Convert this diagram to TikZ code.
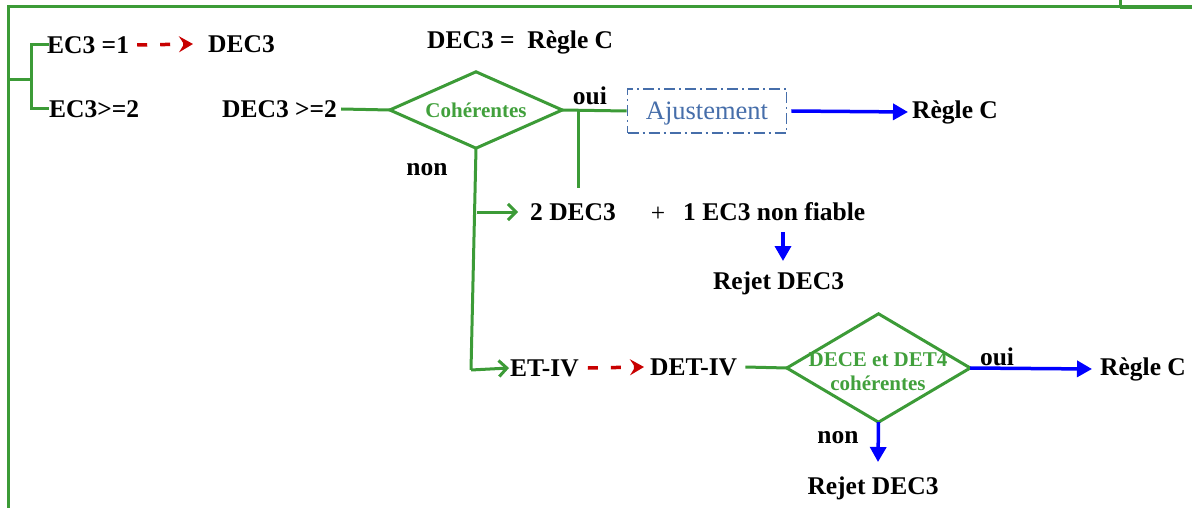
\documentclass[tikz,border=0pt]{standalone}
\usepackage{fontspec}
\setmainfont{Liberation Serif}
\usetikzlibrary{arrows.meta}
\definecolor{gline}{RGB}{60,155,55}
\definecolor{gtext}{RGB}{65,160,60}
\definecolor{rdash}{RGB}{200,0,0}
\definecolor{bluearr}{RGB}{0,0,255}
\definecolor{adjc}{RGB}{70,110,170}
\begin{document}
\begin{tikzpicture}[x=1pt,y=-1pt,
 lbl/.style={font=\fontsize{25.5}{27}\selectfont\bfseries, inner sep=0pt, anchor=west},
 clbl/.style={font=\fontsize{25.5}{27}\selectfont\bfseries, inner sep=0pt},
 glbl/.style={font=\fontsize{21}{24}\selectfont\bfseries, text=gtext, inner sep=0pt, align=center},
 gl/.style={draw=gline, line width=3pt},
 garr/.style={gl, -{Straight Barb[length=8pt,width=16pt,line width=3pt]}},
 rarr/.style={draw=rdash, line width=3.5pt, dash pattern=on 10pt off 13pt, -{Stealth[length=14pt,width=16pt,inset=5pt]}},
 barr/.style={draw=bluearr, line width=3.5pt, -{Triangle[length=15pt,width=16pt]}},
 dbox/.style={draw=none, inner sep=0pt},
]
\useasboundingbox (0,0) rectangle (1192,508);
% frame
\coordinate (tl) at (8,7);
\coordinate (tb) at (8,508);
\coordinate (tr) at (1120,7);
\coordinate (tr0) at (1120,0);
\coordinate (trr) at (1192,7);
\draw[gl] (tb) -- (tl) -- (tr);
\draw[gl] (tr0) -- (tr);
\draw[gl, line width=4.5pt] (tr) -- (trr);
% left branch
\coordinate (b0) at (8,80);
\coordinate (b1) at (31,80);
\node[lbl] (n1) at (47,45) {EC3 =1};
\node[lbl] (n2) at (49,109) {EC3>=2};
\draw[gl] (b0) -- (b1);
\draw[gl] ([xshift=2pt]n1.west) -| (b1) |- ([xshift=0pt]n2.west);
\node[lbl] (d1) at (208,44) {DEC3};
\draw[rarr] ([xshift=8pt]n1.east) -- ([xshift=-15pt]d1.west);
\node[lbl] (dr) at (427,42) {DEC3 =\ \ Règle C};
\node[lbl] (n4) at (222,109) {DEC3 >=2};
% diamond 1
\node[dbox, minimum width=172pt, minimum height=76pt] (c1) at (476,110) {};
\draw[gl] (c1.west) -- (c1.north) -- (c1.east) -- (c1.south) -- cycle;
\node[glbl] (c1t) at (c1.center) {Cohérentes};
\draw[gl] ([xshift=4pt]n4.east) -- (c1.west);
\node[clbl] (oui1) at (590,96) {oui};
\node[draw=adjc, line width=1.8pt, dash pattern=on 11pt off 4pt on 2pt off 4pt,
      minimum width=159pt, minimum height=44pt, inner sep=0pt, text=adjc,
      text height=18pt, text depth=0pt,
      font=\fontsize{26.5}{28}\selectfont] (adj) at (707,111) {Ajustement};
\draw[gl] (c1.east) -- (adj.west);
\coordinate (v1) at (578,110);
\coordinate (v1b) at (578,188);
\draw[gl] (v1) -- (v1b);
\node[lbl] (rc1) at (912,112) {Règle C};
\draw[barr] ([xshift=4pt]adj.east) -- ([xshift=-4pt]rc1.west);
% non branch
\node[clbl] (non1) at (427,170) {non};
\coordinate (k) at (471,370);
\draw[gl] (c1.south) -- (k);
\coordinate (k2) at (477,212);
\node[lbl] (dec2) at (530,212) {2 DEC3};
\draw[garr] (k2) -- ([xshift=-12pt]dec2.west);
\node[font=\fontsize{25.5}{27}\selectfont, inner sep=0pt] (plus) at (658,214) {+};
\node[lbl] (nf) at (683,212) {1 EC3 non fiable};
\coordinate (a1s) at (783,232);
\coordinate (a1e) at (783,261);
\draw[barr] (a1s) -- (a1e);
\node[clbl] (rj1) at (778.5,283) {Rejet DEC3};
% lower
\node[lbl] (et) at (510,368) {ET-IV};
\draw[garr] (k) -- ([xshift=-1pt]et.west);
\node[lbl] (det) at (650,367) {DET-IV};
\draw[rarr] ([xshift=9pt]et.east) -- ([xshift=-6pt]det.west);
\node[dbox, minimum width=183pt, minimum height=108pt] (c2) at (878.5,368) {};
\draw[gl] (c2.west) -- (c2.north) -- (c2.east) -- (c2.south) -- cycle;
\node[glbl] (c2t) at (878,372) {DECE et DET4\\cohérentes};
\draw[gl] ([xshift=8pt]det.east) -- (c2.west);
\node[clbl] (oui2) at (997,357) {oui};
\node[lbl] (rc2) at (1100,369) {Règle C};
\draw[barr] (c2.east) -- ([xshift=-8pt]rc2.west);
\node[clbl] (non2) at (838,438) {non};
\coordinate (a2e) at (878,462);
\draw[barr] (c2.south) -- (a2e);
\node[clbl] (rj2) at (873,488) {Rejet DEC3};
\end{tikzpicture}
\end{document}
